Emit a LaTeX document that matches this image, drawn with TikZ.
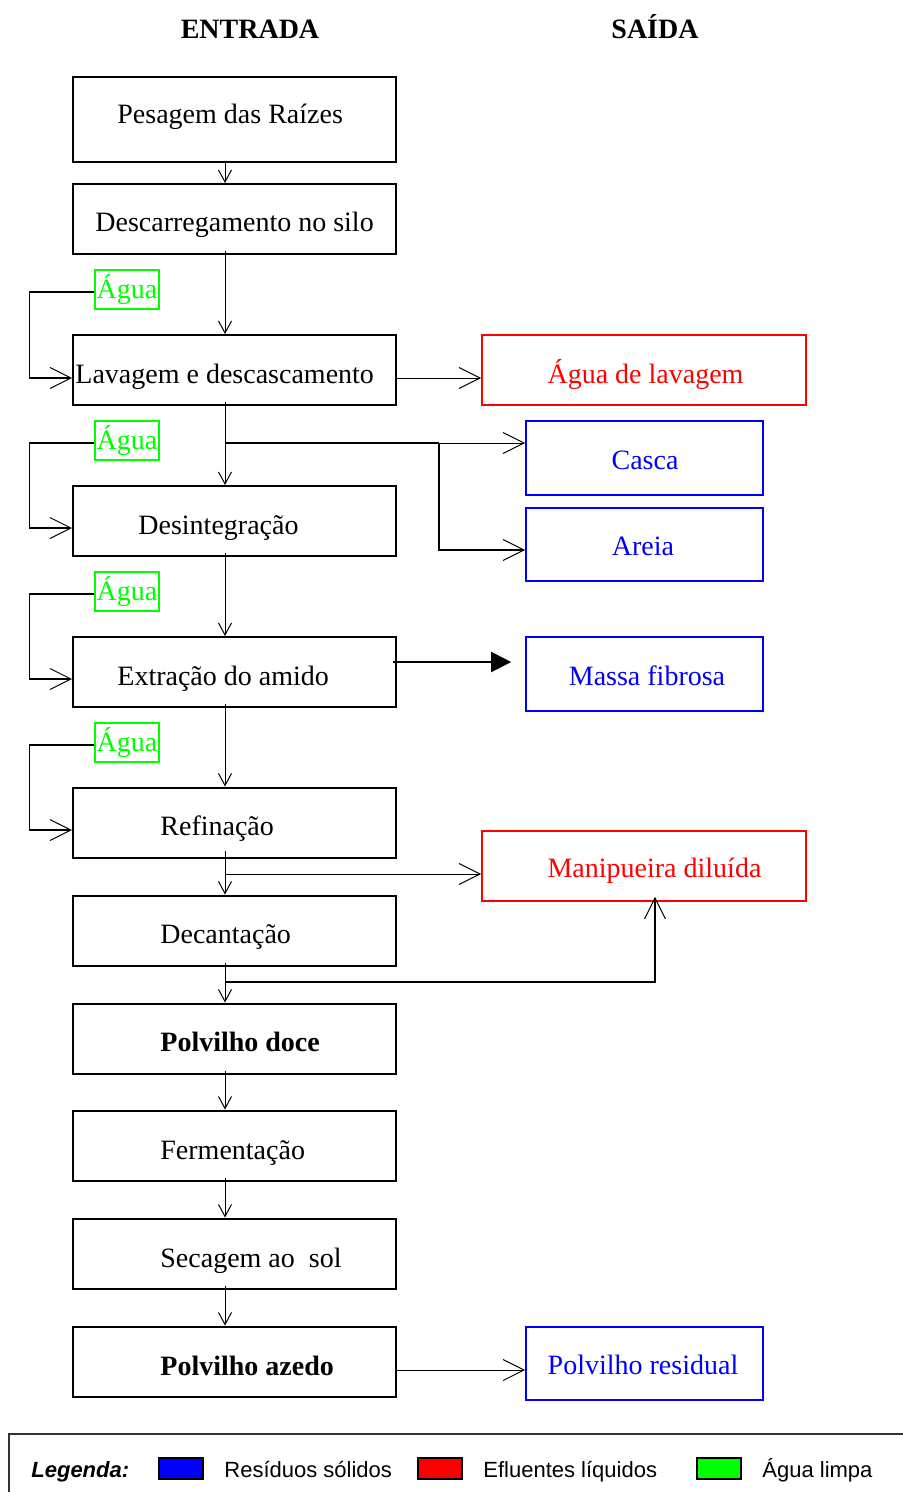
\documentclass[tikz,border=0pt]{standalone}
\usepackage{fontspec}
\setmainfont{Liberation Serif}
\setsansfont{Liberation Sans}
\usetikzlibrary{arrows.meta}
\begin{document}
\begin{tikzpicture}[x=0.5pt,y=-0.5pt,
  mfont/.style={font=\fontsize{14}{16}\selectfont},
  lbox/.style={draw, line width=1pt, minimum width=161.5pt, minimum height=35pt, inner sep=0pt},
  redbox/.style={draw=red, line width=0.8pt, minimum width=162pt, minimum height=35pt, inner sep=0pt},
  bluebox/.style={draw=blue, line width=0.8pt, minimum width=118.5pt, minimum height=37pt, inner sep=0pt},
  aguabox/.style={draw=green, text=green, line width=0.6pt, minimum width=32pt, minimum height=19.5pt, inner sep=0pt, mfont},
  ltext/.style={anchor=base west, inner sep=0pt, mfont},
  rtext/.style={anchor=base, inner sep=0pt, mfont},
  htext/.style={anchor=base, inner sep=0pt, font=\fontsize{14}{16}\selectfont\bfseries},
  gtext/.style={anchor=base west, inner sep=0pt, font=\fontsize{11}{13}\selectfont\sffamily},
  swatch/.style={draw=black, line width=0.6pt, minimum width=22pt, minimum height=10.5pt, inner sep=0pt},
  flow/.style={line width=0.5pt, -{Straight Barb[length=6pt,width=6.5pt,line width=0.5pt]}},
  bigflow/.style={line width=0.5pt, -{Straight Barb[length=10.5pt,width=10.5pt,line width=0.5pt]}},
  loopline/.style={line width=0.8pt, -{Straight Barb[length=10.5pt,width=10.5pt,line width=0.5pt]}},
  thickflow/.style={line width=1pt, -{Triangle[length=10pt,width=10pt]}}
]
\useasboundingbox (0,0) rectangle (902,1492);

% headers
\node[htext] (hin) at (250,39) {ENTRADA};
\node[htext] (hout) at (655,39) {SAÍDA};

% left boxes
\node[lbox, minimum height=42.5pt] (pes) at (234.5,119.5) {};
\node[lbox] (desc) at (234.5,219) {};
\node[lbox] (lav) at (234.5,370) {};
\node[lbox] (desi) at (234.5,521) {};
\node[lbox] (extr) at (234.5,672) {};
\node[lbox] (ref) at (234.5,822.5) {};
\node[lbox] (dec) at (234.5,930.5) {};
\node[lbox] (pdoce) at (234.5,1038.5) {};
\node[lbox] (ferm) at (234.5,1145.5) {};
\node[lbox] (sec) at (234.5,1253.5) {};
\node[lbox] (paz) at (234.5,1361.5) {};

% left texts
\node[ltext] (tpes) at (117,124) {Pesagem das Raízes};
\node[ltext] (tdesc) at (95,232) {Descarregamento no silo};
\node[ltext] (tlav) at (75,383) {Lavagem e descascamento};
\node[ltext] (tdesi) at (138,534) {Desintegração};
\node[ltext] (textr) at (117,685) {Extração do amido};
\node[ltext] (tref) at (160,835) {Refinação};
\node[ltext] (tdec) at (160,943) {Decantação};
\node[ltext, font=\fontsize{14}{16}\selectfont\bfseries] (tpdoce) at (160,1051) {Polvilho doce};
\node[ltext] (tferm) at (160,1159) {Fermentação};
\node[ltext] (tsec) at (160,1267) {Secagem ao\ \ sol};
\node[ltext, font=\fontsize{14}{16}\selectfont\bfseries] (tpaz) at (160,1375) {Polvilho azedo};

% right boxes
\node[redbox] (alav) at (644,370) {};
\node[bluebox] (casca) at (644.5,458) {};
\node[bluebox, minimum height=36.5pt] (areia) at (644.5,544.5) {};
\node[bluebox] (massa) at (644.5,674) {};
\node[redbox] (manip) at (644,866) {};
\node[bluebox, minimum height=36.5pt] (resid) at (644.5,1363.5) {};

\node[rtext, text=red] (talav) at (645.5,383) {Água de lavagem};
\node[rtext, text=blue] (tcasca) at (645,469) {Casca};
\node[rtext, text=blue] (tareia) at (643,555) {Areia};
\node[rtext, text=blue] (tmassa) at (647,685) {Massa fibrosa};
\node[rtext, text=red] (tmanip) at (654.5,877) {Manipueira diluída};
\node[rtext, text=blue] (tresid) at (643,1374) {Polvilho residual};

% water boxes
\node[aguabox] (ag1) at (127,289.5) {Água};
\node[aguabox] (ag2) at (127,440.5) {Água};
\node[aguabox] (ag3) at (127,591.5) {Água};
\node[aguabox] (ag4) at (127,742.5) {Água};

% main vertical flow
\draw[flow] ([xshift=-4.75pt]pes.south) -- ([xshift=-4.75pt]desc.north);
\draw[flow] ([xshift=-4.75pt,yshift=2pt]desc.south) -- ([xshift=-4.75pt]lav.north);
\draw[flow] ([xshift=-4.75pt,yshift=2pt]lav.south) -- ([xshift=-4.75pt]desi.north);
\draw[flow] ([xshift=-4.75pt,yshift=2pt]desi.south) -- ([xshift=-4.75pt]extr.north);
\draw[flow] ([xshift=-4.75pt,yshift=2pt]extr.south) -- ([xshift=-4.75pt]ref.north);
\draw[flow] ([xshift=-4.75pt,yshift=4pt]ref.south) -- ([xshift=-4.75pt]dec.north);
\draw[flow] ([xshift=-4.75pt,yshift=2pt]dec.south) -- ([xshift=-4.75pt]pdoce.north);
\draw[flow] ([xshift=-4.75pt,yshift=2pt]pdoce.south) -- ([xshift=-4.75pt]ferm.north);
\draw[flow] ([xshift=-4.75pt,yshift=2pt]ferm.south) -- ([xshift=-4.75pt]sec.north);
\draw[flow] ([xshift=-4.75pt,yshift=2pt]sec.south) -- ([xshift=-4.75pt]paz.north);

% water loops
\draw[loopline] ([yshift=-1.25pt]ag1.west) -- ++(-65,0) |- ([yshift=-4pt]lav.west);
\draw[loopline] ([yshift=-1.25pt]ag2.west) -- ++(-65,0) |- ([yshift=-3.5pt]desi.west);
\draw[loopline] ([yshift=-1.25pt]ag3.west) -- ++(-65,0) |- ([yshift=-3.5pt]extr.west);
\draw[loopline] ([yshift=-1.25pt]ag4.west) -- ++(-65,0) |- ([yshift=-3.75pt]ref.west);

% outputs
\draw[bigflow] ([yshift=-4pt]lav.east) -- ([yshift=-4pt]alav.west);
\coordinate (b1) at (225,443);
\coordinate (b2) at (439,443);
\draw[line width=0.8pt] (b1) -- (b2);
\draw[bigflow] (b2) -- ([yshift=7.5pt]casca.west);
\draw[bigflow, line width=0.8pt] (b2) |- ([yshift=-2.75pt]areia.west);
\draw[thickflow] ([xshift=-2pt,yshift=5pt]extr.east) -- ([xshift=-7pt,yshift=6pt]massa.west);
\coordinate (b3) at (225,874);
\draw[bigflow] (b3) -- ([yshift=-4pt]manip.west);
\coordinate (b4) at (225,982);
\draw[bigflow, line width=0.8pt] (b4) -| ([xshift=5.5pt,yshift=2.5pt]manip.south);
\draw[bigflow] ([yshift=-4.25pt]paz.east) -- ([yshift=-3.25pt]resid.west);

% legend
\draw[line width=0.8pt, draw=black!80] (9,1434) rectangle (910,1500);
\node[gtext, font=\fontsize{11}{13}\selectfont\sffamily\bfseries\itshape] (leg) at (31,1477) {Legenda:};
\node[swatch, fill=blue] (s1) at (181,1468.5) {};
\node[gtext] (l1) at (224,1477) {Resíduos sólidos};
\node[swatch, fill=red] (s2) at (440,1468.5) {};
\node[gtext] (l2) at (483,1477) {Efluentes líquidos};
\node[swatch, fill=green] (s3) at (719,1468.5) {};
\node[gtext] (l3) at (762,1477) {Água limpa};
\end{tikzpicture}
\end{document}
